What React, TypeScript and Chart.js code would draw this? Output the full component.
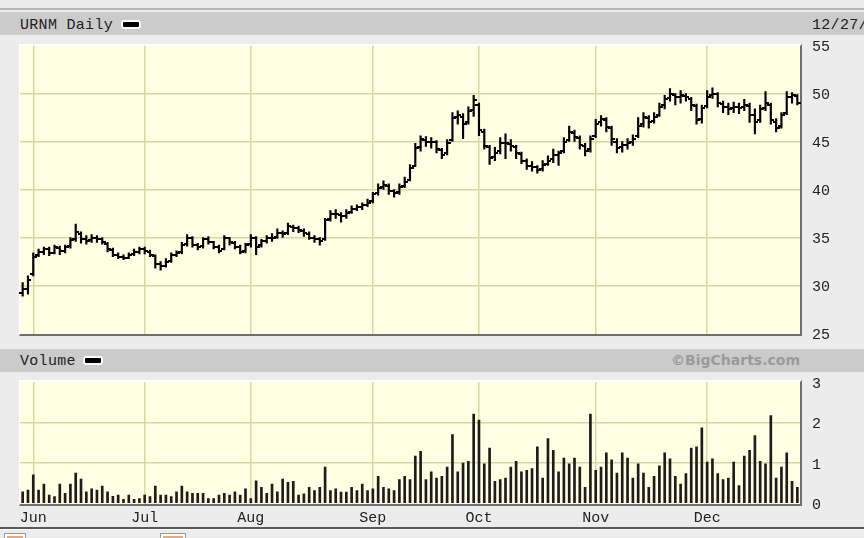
import React, { useEffect, useRef } from 'react';
import { Chart, registerables } from 'chart.js';

Chart.register(...registerables);

// ---------- data ----------
const MONTHS = ['May', 'Jun', 'Jul', 'Aug', 'Sep', 'Oct', 'Nov', 'Dec'];
const MONTH_DAYS = [
  [30, 31],
  [1, 2, 5, 6, 7, 8, 9, 12, 13, 14, 15, 16, 20, 21, 22, 23, 26, 27, 28, 29, 30],
  [3, 5, 6, 7, 10, 11, 12, 13, 14, 17, 18, 19, 20, 21, 24, 25, 26, 27, 28, 31],
  [1, 2, 3, 4, 7, 8, 9, 10, 11, 14, 15, 16, 17, 18, 21, 22, 23, 24, 25, 28, 29, 30, 31],
  [1, 5, 6, 7, 8, 11, 12, 13, 14, 15, 18, 19, 20, 21, 22, 25, 26, 27, 28, 29],
  [2, 3, 4, 5, 6, 9, 10, 11, 12, 13, 16, 17, 18, 19, 20, 23, 24, 25, 26, 27, 30, 31],
  [1, 2, 3, 6, 7, 8, 9, 10, 13, 14, 15, 16, 17, 20, 21, 22, 24, 27, 28, 29, 30],
  [1, 4, 5, 6, 7, 8, 11, 12, 13, 14, 15, 18, 19, 20, 21, 22, 26, 27],
];
const MONTH_TICKS = ['', 'Jun', 'Jul', 'Aug', 'Sep', 'Oct', 'Nov', 'Dec'];

const OPEN = [29.2,29.6,31.2,33.2,33.5,33.8,33.4,33.9,33.6,34.1, 34.8,35.4,34.8,34.7,35.0,34.8,34.3,33.7,33.2,33.0, 32.9,33.3,33.5,33.8,33.5,33.1,32.2,32.0,32.6,33.2, 33.5,34.3,34.9,34.2,34.1,34.8,34.5,34.0,33.8,34.9, 34.4,34.0,33.6,34.3,34.9,34.2,34.6,35.0,35.1,35.5, 35.5,36.1,36.0,35.7,35.4,35.0,34.8,34.8,36.9,37.5, 37.3,37.2,37.7,38.0,38.2,38.4,38.8,39.6,40.3,40.4, 39.8,39.7,40.4,41.0,42.5,44.4,45.2,44.9,44.9,44.1, 43.8,45.2,47.6,47.6,47.0,48.3,48.8,46.0,44.4,43.4, 44.0,44.8,44.7,44.4,43.7,43.0,42.4,42.3,42.1,42.7, 43.2,43.6,44.0,45.2,45.9,45.4,44.5,44.2,45.6,47.0, 47.2,46.4,45.0,44.4,44.6,45.0,45.6,46.8,47.4,47.1, 47.8,48.8,49.5,49.8,49.6,49.7,49.4,48.7,47.3,48.7, 49.8,49.9,48.9,48.6,48.5,48.6,48.6,48.7,47.8,47.2, 48.5,48.8,47.0,46.6,48.0,49.6,49.7];
const HIGH = [30.3,31.0,33.4,33.8,34.0,34.0,34.2,34.1,34.2,35.0, 36.4,35.6,35.2,35.3,35.2,35.0,34.5,33.9,33.4,33.2, 33.4,33.8,34.0,34.0,33.7,33.2,32.5,32.8,33.4,33.6, 34.5,35.3,35.1,34.4,35.0,35.1,34.6,34.2,35.2,35.0, 34.6,34.2,34.4,35.3,35.1,34.8,35.2,35.4,35.9,35.7, 36.5,36.3,36.2,35.9,35.6,35.2,35.0,37.0,37.8,37.9, 37.6,37.9,38.3,38.4,38.6,39.0,39.7,40.6,40.9,40.6, 40.0,40.6,41.3,42.6,44.8,45.6,45.5,45.4,45.1,44.3, 45.2,48.0,48.2,47.9,48.6,49.8,49.0,46.3,44.6,44.4, 45.4,45.8,45.2,44.6,43.9,43.2,42.9,42.5,43.0,43.5, 44.2,44.0,45.4,46.6,46.2,45.6,44.8,45.6,47.3,47.7, 47.5,46.6,45.3,45.0,45.3,45.7,47.5,48.0,47.7,48.0, 49.0,49.8,50.5,50.0,50.3,50.0,49.6,48.9,48.8,50.3, 50.6,50.1,49.2,49.0,49.1,49.0,49.4,49.0,48.4,48.8, 50.2,49.0,47.4,48.0,50.2,50.1,49.9];
const LOW = [28.9,29.1,31.0,33.0,33.2,33.1,33.3,33.2,33.4,33.9, 34.6,34.4,34.3,34.5,34.5,34.3,33.5,33.0,32.8,32.7, 32.8,33.1,33.3,33.3,33.0,31.8,31.6,31.9,32.4,33.0, 33.3,34.1,34.0,33.7,33.9,34.3,33.8,33.4,33.7,34.2, 33.8,33.3,33.4,34.0,33.2,34.0,34.4,34.6,34.9,35.0, 35.3,35.6,35.5,35.1,34.8,34.5,34.2,34.7,36.7,37.0, 36.6,37.0,37.5,37.8,37.9,38.2,38.6,39.4,40.0,39.5, 39.2,39.5,40.2,40.9,42.4,44.0,44.5,44.3,43.8,43.2, 43.6,45.0,46.8,45.3,46.8,47.6,45.6,44.2,42.6,43.0, 43.7,43.2,44.0,43.2,42.7,42.1,41.9,41.7,41.9,42.5, 42.8,42.5,43.8,45.0,45.0,44.2,43.5,43.9,45.4,46.6, 46.0,44.6,43.8,43.9,44.2,44.6,45.4,46.5,46.4,46.9, 47.6,48.4,49.2,48.8,49.0,49.2,48.2,46.8,46.9,48.5, 49.5,48.6,48.0,47.8,48.0,47.9,48.2,47.0,45.8,47.0, 48.2,46.8,46.0,46.4,47.8,49.0,48.8];
const CLOSE = [29.6,30.6,33.0,33.5,33.8,33.4,34.0,33.6,34.0,34.7, 35.6,34.8,34.6,35.0,34.8,34.5,33.8,33.2,33.0,32.9, 33.2,33.5,33.8,33.6,33.2,32.2,32.0,32.5,33.2,33.4, 34.2,35.0,34.2,34.0,34.8,34.5,34.0,33.6,35.0,34.5, 34.0,33.5,34.2,35.0,34.0,34.6,35.0,35.0,35.5,35.4, 36.2,36.0,35.8,35.5,35.0,34.8,34.6,36.8,37.5,37.4, 37.2,37.6,38.0,38.2,38.4,38.6,39.5,40.2,40.5,39.8, 39.6,40.3,40.8,42.2,44.3,45.3,45.0,45.0,44.2,43.6, 44.8,47.5,47.8,46.8,48.2,49.3,46.2,44.5,43.3,43.8, 44.8,44.8,44.5,43.8,43.0,42.4,42.3,42.0,42.6,43.0, 43.6,43.8,45.0,46.0,45.5,44.6,44.0,45.3,46.8,47.3, 46.5,45.3,44.3,44.6,44.8,45.3,46.6,47.6,47.0,47.6, 48.6,49.4,50.0,49.6,49.8,49.6,48.8,47.2,48.5,49.6, 50.0,49.0,48.6,48.4,48.6,48.5,48.8,47.8,47.0,48.4, 49.0,47.2,46.4,47.8,49.6,49.8,49.0];
// volume in millions of shares
const VOLUME = [0.29,0.33,0.71,0.33,0.48,0.21,0.17,0.48,0.25,0.48, 0.75,0.6,0.29,0.36,0.33,0.43,0.29,0.18,0.21,0.1, 0.21,0.1,0.12,0.21,0.17,0.43,0.21,0.21,0.17,0.29, 0.43,0.29,0.25,0.25,0.25,0.12,0.12,0.21,0.25,0.21, 0.29,0.21,0.36,0.12,0.56,0.4,0.25,0.48,0.29,0.6, 0.52,0.55,0.21,0.24,0.4,0.32,0.4,0.9,0.32,0.36, 0.28,0.28,0.4,0.32,0.48,0.32,0.36,0.67,0.4,0.36, 0.32,0.59,0.67,0.59,1.17,1.29,0.59,0.78,0.63,0.67, 0.9,1.7,0.78,1.0,1.04,2.21,2.06,0.98,1.37,0.55, 0.59,0.63,0.9,1.04,0.78,0.82,0.86,1.4,0.63,1.6, 1.31,0.78,1.12,0.98,1.12,0.9,0.4,2.21,0.82,0.9, 1.25,1.08,0.75,1.25,1.12,0.63,0.98,0.75,0.4,0.67, 0.93,1.25,1.1,0.67,0.48,0.74,1.37,1.4,1.87,1.02, 1.1,0.74,0.59,0.63,1.02,0.44,1.17,1.31,1.68,1.04, 0.98,2.17,0.63,0.9,1.25,0.55,0.4];

const PRICE_MIN = 25, PRICE_MAX = 55, PRICE_STEP = 5;
const VOL_MIN = 0, VOL_MAX = 3, VOL_STEP = 1;

// ---------- derived categories ----------
const CATEGORIES: string[] = [];
const TICK_LABELS: string[] = [];
MONTHS.forEach((m, mi) => {
  MONTH_DAYS[mi].forEach((d, di) => {
    CATEGORIES.push(`${m} ${d}`);
    TICK_LABELS.push(di === 0 ? MONTH_TICKS[mi] : '');
  });
});

// ---------- style ----------
const FONT = '"Liberation Mono", "DejaVu Sans Mono", monospace';
const GRID = '#d7d7a3';
const TEXT = '#222';

function makeTick(side: 'left' | 'right') {
  const c = document.createElement('canvas');
  c.width = 7;
  c.height = 2;
  const g = c.getContext('2d')!;
  g.fillStyle = '#000';
  if (side === 'left') g.fillRect(0, 0, 4, 2);
  else g.fillRect(3, 0, 4, 2);
  return c;
}

const xGridColor = (c: any) => (TICK_LABELS[c.index] ? GRID : 'rgba(0,0,0,0)');
const yFit = (s: any) => {
  s.width = 64;
  s.paddingTop = 0;
  s.paddingBottom = 0;
};

export default function App() {
  const priceRef = useRef<HTMLCanvasElement>(null);
  const volRef = useRef<HTMLCanvasElement>(null);

  useEffect(() => {
    const prevMargin = document.body.style.margin;
    document.body.style.margin = '0';
    const openImg = makeTick('left');
    const closeImg = makeTick('right');

    const price = new Chart(priceRef.current!, {
      type: 'bar',
      data: {
        labels: CATEGORIES,
        datasets: [
          {
            type: 'bar',
            data: LOW.map((l, i) => [l, HIGH[i]]) as any,
            backgroundColor: '#000',
            barThickness: 1.5,
            borderWidth: 0,
          },
          {
            type: 'line',
            data: OPEN,
            showLine: false,
            pointStyle: openImg as any,
            pointRadius: 3,
            pointHoverRadius: 3,
          },
          {
            type: 'line',
            data: CLOSE,
            showLine: false,
            pointStyle: closeImg as any,
            pointRadius: 3,
            pointHoverRadius: 3,
          },
        ],
      },
      options: {
        responsive: false,
        animation: false,
        events: [],
        layout: { padding: { left: 20, right: 0, top: 9.5, bottom: 8.5 } },
        plugins: { legend: { display: false }, tooltip: { enabled: false } },
        scales: {
          x: {
            offset: true,
            grid: { offset: false, drawTicks: false, color: xGridColor, lineWidth: 1.5 },
            border: { display: false },
            ticks: { display: false },
            afterFit: (s: any) => { s.height = 0; s.paddingLeft = 0; s.paddingRight = 0; },
          },
          y: {
            position: 'right',
            min: PRICE_MIN,
            max: PRICE_MAX,
            ticks: { stepSize: PRICE_STEP, padding: 12, labelOffset: 2, color: TEXT, font: { family: FONT, size: 15 } },
            grid: {
              drawTicks: false,
              lineWidth: 1.5,
              color: (c: any) =>
                c.tick && (c.tick.value === PRICE_MIN || c.tick.value === PRICE_MAX) ? 'rgba(0,0,0,0)' : GRID,
            },
            border: { display: false },
            afterFit: yFit,
          },
        },
      } as any,
    });

    const vol = new Chart(volRef.current!, {
      type: 'bar',
      data: {
        labels: CATEGORIES,
        datasets: [
          {
            data: VOLUME,
            backgroundColor: '#1c1c1c',
            barThickness: 2,
            borderWidth: 0,
          },
        ],
      },
      options: {
        responsive: false,
        animation: false,
        events: [],
        layout: { padding: { left: 20, right: 0, top: 10, bottom: 0 } },
        plugins: { legend: { display: false }, tooltip: { enabled: false } },
        scales: {
          x: {
            offset: true,
            grid: { offset: false, drawTicks: false, color: xGridColor, lineWidth: 1.5 },
            border: { display: false },
            ticks: {
              autoSkip: false,
              maxRotation: 0,
              minRotation: 0,
              padding: 6,
              color: TEXT,
              font: { family: FONT, size: 15 },
              callback: (_v: any, i: number) => TICK_LABELS[i],
            },
            afterFit: (s: any) => { s.height = 24.5; s.paddingLeft = 0; s.paddingRight = 0; },
          },
          y: {
            position: 'right',
            min: VOL_MIN,
            max: VOL_MAX,
            ticks: { stepSize: VOL_STEP, padding: 12, labelOffset: 2, color: TEXT, font: { family: FONT, size: 15 } },
            grid: {
              drawTicks: false,
              lineWidth: 1.5,
              color: (c: any) =>
                c.tick && (c.tick.value === VOL_MIN || c.tick.value === VOL_MAX) ? 'rgba(0,0,0,0)' : GRID,
            },
            border: { display: false },
            afterFit: yFit,
          },
        },
      } as any,
    });

    return () => {
      price.destroy();
      vol.destroy();
      document.body.style.margin = prevMargin;
    };
  }, []);

  const abs = (s: React.CSSProperties): React.CSSProperties => ({ position: 'absolute', ...s });
  const label: React.CSSProperties = {
    fontFamily: FONT,
    fontSize: 15,
    lineHeight: '17px',
    color: TEXT,
    letterSpacing: '0.3px',
    whiteSpace: 'nowrap',
  };
  const swatch = (left: number, top: number) => (
    <div
      style={abs({
        left,
        top,
        width: 16,
        height: 5,
        background: '#000',
        border: '2px solid #fff',
        borderRadius: 3,
      })}
    />
  );

  return (
    <div
      style={{
        position: 'fixed',
        left: 0,
        top: 0,
        width: 864,
        height: 538,
        background: '#ececec',
        overflow: 'hidden',
      }}
    >
      {/* top rule */}
      <div style={abs({ left: 0, top: 8, width: 864, height: 2, background: '#b4b4b4' })} />
      {/* price header */}
      <div style={abs({ left: 0, top: 12, width: 864, height: 23, background: '#cbcbcb' })} />
      <div style={abs({ ...label, left: 20, top: 17 })}>URNM Daily</div>
      {swatch(121, 20)}
      <div style={abs({ ...label, left: 812, top: 17 })}>12/27/23</div>

      {/* price plot background */}
      <div
        style={abs({
          left: 19,
          top: 44,
          width: 783,
          height: 292,
          boxSizing: 'border-box',
          background: '#ffffe4',
          borderTop: '2px solid #fff',
          borderLeft: '1px solid #fff',
          borderRight: '2px solid #6e6e6e',
          borderBottom: '2px solid #6e6e6e',
        })}
      />
      <canvas ref={priceRef} width={864} height={306} style={abs({ left: 0, top: 36, width: 864, height: 306 })} />

      {/* volume header */}
      <div style={abs({ left: 0, top: 349, width: 864, height: 23, background: '#cbcbcb' })} />
      <div style={abs({ ...label, left: 20, top: 353 })}>Volume</div>
      {swatch(83, 356)}
      <div
        style={abs({
          right: 64,
          top: 351,
          fontFamily: '"DejaVu Sans", Verdana, sans-serif',
          fontWeight: 'bold',
          fontSize: 14,
          lineHeight: '18px',
          color: '#9a9a9a',
          whiteSpace: 'nowrap',
        })}
      >
        ©BigCharts.com
      </div>

      {/* volume plot background */}
      <div
        style={abs({
          left: 19,
          top: 380,
          width: 783,
          height: 126,
          boxSizing: 'border-box',
          background: '#ffffe4',
          borderTop: '2px solid #fff',
          borderLeft: '1px solid #fff',
          borderRight: '2px solid #6e6e6e',
          borderBottom: '2px solid #6e6e6e',
        })}
      />
      <canvas ref={volRef} width={864} height={156} style={abs({ left: 0, top: 372, width: 864, height: 156 })} />

      {/* bottom rule and icons */}
      <div style={abs({ left: 0, top: 527, width: 864, height: 2, background: '#5a5a5a' })} />
      <div style={abs({ left: 0, top: 529, width: 864, height: 1, background: '#fafafa' })} />
      <div style={abs({ left: 4, top: 533, width: 20, height: 10, background: '#fff', border: '1px solid #999' })}>
        <div style={{ margin: 2, height: 6, background: '#e9a77a' }} />
      </div>
      <div style={abs({ left: 160, top: 533, width: 24, height: 10, background: '#fff', border: '1px solid #999' })}>
        <div style={{ margin: 2, height: 6, background: '#e9a77a' }} />
      </div>
    </div>
  );
}
